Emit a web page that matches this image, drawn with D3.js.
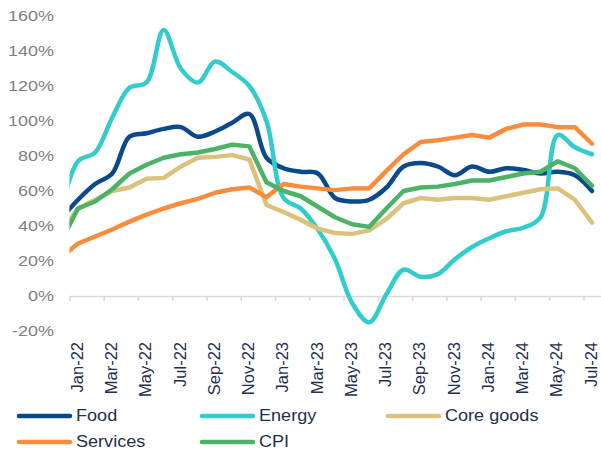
<!DOCTYPE html>
<html>
<head>
<meta charset="utf-8">
<script src="https://cdn.jsdelivr.net/npm/d3@7"></script>
<style>
  html, body { margin: 0; padding: 0; background: #fff; }
  svg { display: block; }
  text { font-family: "Liberation Sans", Arial, sans-serif; }
</style>
</head>
<body>
<svg id="chart" width="601" height="456"></svg>
<script>
// Months (Dec-21 is only partly visible at the left edge of the plot)
const months = ["Dec-21",
  "Jan-22","Feb-22","Mar-22","Apr-22","May-22","Jun-22","Jul-22","Aug-22","Sep-22","Oct-22","Nov-22","Dec-22",
  "Jan-23","Feb-23","Mar-23","Apr-23","May-23","Jun-23","Jul-23","Aug-23","Sep-23","Oct-23","Nov-23","Dec-23",
  "Jan-24","Feb-24","Mar-24","Apr-24","May-24","Jun-24","Jul-24"];
const tickLabels = ["Jan-22","Mar-22","May-22","Jul-22","Sep-22","Nov-22","Jan-23","Mar-23","May-23","Jul-23",
  "Sep-23","Nov-23","Jan-24","Mar-24","May-24","Jul-24"];
const yTicks = [-20, 0, 20, 40, 60, 80, 100, 120, 140, 160];

const food     = [44, 55, 64, 70, 91, 93, 95.5, 96.5, 91, 94, 99, 104, 79, 73, 71, 70, 56, 54, 55, 62, 74, 76, 74, 69, 74, 71, 73, 72, 70, 71, 69, 60];
const energy   = [48, 77, 82, 102, 119, 122, 152, 130, 122, 134, 128, 120, 100, 56, 50, 38, 21, -4, -15, 1, 15, 11, 12.5, 21, 28, 33, 37, 39, 45, 92, 85, 81];
const coreGoods= [36, 50, 55, 60, 62, 67, 67.5, 74, 79, 79.5, 80.5, 78, 52, 48, 43.5, 38.5, 36, 35.5, 37.5, 44, 53, 56, 55, 56, 56, 55, 57, 59, 61, 61.5, 55, 42];
const services = [22, 30, 34, 38, 42.5, 46.5, 50, 53, 55.5, 59, 61, 62, 56.5, 64, 62.5, 61.5, 60.5, 61.5, 61.5, 71.5, 81, 88, 89, 90.5, 92, 90.5, 95.5, 98, 98, 96.5, 96.5, 87];
const cpi      = [31, 50, 54, 61, 70, 75, 79, 81, 82, 84, 86.5, 85.5, 65, 60, 57, 51, 45, 41, 39.5, 50, 60, 62, 62.5, 64, 66, 66, 68, 70, 71, 77, 73, 63];

const seriesNames = ["Food", "Energy", "Core goods", "Services", "CPI"];
const seriesValues = [food, energy, coreGoods, services, cpi];
const seriesColors = ["#0b4a8a", "#33cccc", "#dcc17a", "#f98d3c", "#4cb266"];
const seriesSmooth = [true, true, false, false, false];

const svg = d3.select("#chart");
const x = d3.scaleLinear().domain([1, 31]).range([78, 592]);
const y = d3.scaleLinear().domain([-20, 160]).range([331, 16]);
const plotLeft = x(0.5), plotRight = x(31.5);

// Clip for plot area
svg.append("defs").append("clipPath").attr("id", "plotclip")
  .append("rect").attr("x", plotLeft).attr("y", 0).attr("width", plotRight - plotLeft).attr("height", 456);

// Y axis labels (no axis line)
const yAxis = svg.append("g").attr("transform", "translate(54,0)")
  .call(d3.axisLeft(y).tickValues(yTicks).tickSize(0).tickPadding(0).tickFormat(d => d + "%"));
yAxis.select(".domain").remove();
yAxis.selectAll("text")
  .attr("x", null).attr("dy", null)
  .attr("dominant-baseline", "central")
  .attr("text-anchor", "end")
  .attr("transform", "scale(1.2,1)")
  .style("font-size", "15px")
  .attr("fill", "#7f7f7f");

// X axis: line and tick marks at category boundaries
const tickIdx = d3.range(1, 32, 2);
const xTickAxis = svg.append("g").attr("transform", `translate(0,${y(0)})`)
  .call(d3.axisBottom(d3.scaleLinear().domain([0.5, 31.5]).range([plotLeft, plotRight]))
    .tickValues(tickIdx.map(i => i - 0.5)).tickSize(5).tickSizeOuter(0).tickFormat(""));
xTickAxis.select(".domain").attr("stroke", "#d9d9d9").attr("stroke-width", 1.5);
xTickAxis.selectAll(".tick line").attr("stroke", "#d9d9d9").attr("stroke-width", 1.5);

// X axis labels at category centres
const xLabAxis = svg.append("g").attr("transform", "translate(-1,342)")
  .call(d3.axisBottom(x).tickValues(tickIdx).tickSize(0).tickFormat(i => tickLabels[(i - 1) / 2]));
xLabAxis.select(".domain").remove();
xLabAxis.selectAll("text")
  .attr("y", null).attr("dy", "0.3em")
  .attr("text-anchor", "end")
  .attr("transform", "scale(1.05,1) rotate(-90)")
  .style("font-size", "16.5px")
  .attr("fill", "#1f2f4f");

// Lines
const plot = svg.append("g").attr("clip-path", "url(#plotclip)");
seriesValues.forEach((vals, s) => {
  const line = d3.line()
    .x((d, i) => x(i))
    .y(d => y(d))
    .curve(seriesSmooth[s] ? d3.curveCatmullRom.alpha(0.5) : d3.curveLinear);
  plot.append("path")
    .datum(vals)
    .attr("d", line)
    .attr("fill", "none")
    .attr("stroke", seriesColors[s])
    .attr("stroke-width", 4.5)
    .attr("stroke-linejoin", "round")
    .attr("stroke-linecap", "round");
});

// Legend
const legendPos = [[17, 416], [200, 416], [386, 416], [17, 442], [200, 442]];
const legend = svg.append("g");
seriesNames.forEach((name, s) => {
  const [lx, ly] = legendPos[s];
  legend.append("line")
    .attr("x1", lx + 2).attr("x2", lx + 53).attr("y1", ly).attr("y2", ly)
    .attr("stroke", seriesColors[s]).attr("stroke-width", 4.5).attr("stroke-linecap", "round");
  legend.append("text")
    .attr("transform", `translate(${lx + 59},${ly}) scale(1.13,1)`)
    .attr("dominant-baseline", "central")
    .style("font-size", "16px")
    .attr("fill", "#1f2f4f")
    .text(name);
});
</script>
</body>
</html>
